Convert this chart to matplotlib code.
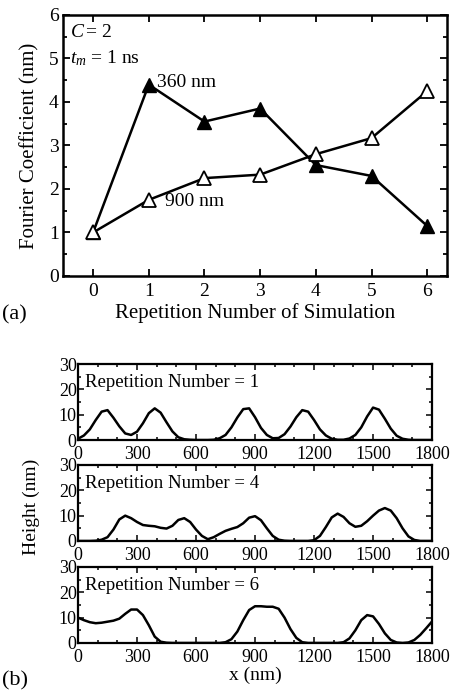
import numpy as np
import matplotlib
matplotlib.use("Agg")
import matplotlib.pyplot as plt
from matplotlib.ticker import MultipleLocator

plt.rcParams["font.family"] = ["Liberation Serif", "DejaVu Serif"]
plt.rcParams["mathtext.fontset"] = "custom"
plt.rcParams["mathtext.rm"] = "Liberation Serif"
plt.rcParams["mathtext.it"] = "Liberation Serif:italic"

# ---- panel (a): Fourier coefficients vs repetition number
rep = [0, 1, 2, 3, 4, 5, 6]
coef_360 = [1.0, 4.4, 3.55, 3.85, 2.55, 2.3, 1.15]
coef_900 = [1.0, 1.75, 2.25, 2.33, 2.8, 3.17, 4.25]

# ---- panel (b): height profiles, sampled every 30 nm from 0 to 1800
x_nm = np.arange(0, 1801, 30)
h_rep1 = [0.5, 1.8, 4.2, 7.9, 11.2, 11.8, 8.8, 5.4, 2.6, 2.0,
          3.3, 6.6, 10.6, 12.5, 10.8, 7.0, 3.4, 1.1, 0.3, 0.1,
          0.0, 0.0, 0.0, 0.1, 0.7, 2.0, 5.0, 8.9, 12.2, 12.5,
          9.0, 4.8, 2.0, 0.7, 0.8, 2.3, 5.3, 9.0, 11.8, 11.2,
          7.9, 4.2, 1.8, 0.5, 0.1, 0.1, 0.6, 2.0, 5.0, 9.3,
          12.8, 12.0, 8.4, 4.5, 1.7, 0.5, 0.1, 0.0, 0.0, 0.0, 0.0]
h_rep4 = [0.0, 0.0, 0.0, 0.1, 0.5, 1.5, 4.5, 8.5, 10.0, 9.0,
          7.5, 6.3, 6.0, 5.8, 5.2, 4.9, 6.0, 8.3, 9.0, 7.5,
          4.5, 2.0, 0.7, 1.5, 2.8, 4.0, 4.8, 5.5, 7.0, 9.2,
          9.8, 8.2, 5.0, 2.0, 0.5, 0.1, 0.0, 0.0, 0.0, 0.0,
          0.3, 2.0, 5.5, 9.3, 10.8, 9.5, 7.0, 5.6, 6.0, 7.8,
          10.0, 12.0, 13.0, 12.0, 9.0, 5.0, 1.8, 0.4, 0.0, 0.0, 0.0]
h_rep6 = [10.0, 9.0, 8.2, 7.8, 8.0, 8.4, 8.8, 9.6, 11.5, 13.2,
          13.2, 11.0, 7.0, 2.5, 0.5, 0.1, 0.0, 0.0, 0.0, 0.0,
          0.0, 0.0, 0.0, 0.0, 0.0, 0.3, 1.5, 4.5, 9.0, 13.0,
          14.5, 14.5, 14.3, 14.3, 13.5, 10.0, 5.5, 2.0, 0.3, 0.0,
          0.0, 0.0, 0.0, 0.0, 0.0, 0.3, 1.8, 5.0, 9.0, 11.0,
          10.5, 7.5, 3.8, 1.2, 0.2, 0.0, 0.2, 1.2, 3.2, 5.8, 8.5]
profiles = [(1, h_rep1), (4, h_rep4), (6, h_rep6)]

fig = plt.figure(figsize=(4.51, 6.91), dpi=100)

ax = fig.add_axes([0.1397, 0.6006, 0.852, 0.3777])
ax.plot(rep, coef_360, color="black", lw=1.8, marker="^", ms=9.5,
        mfc="black", mec="black", clip_on=False, zorder=3)
ax.plot(rep, coef_900, color="black", lw=1.8, marker="^", ms=9.5,
        mfc="white", mec="black", mew=1.3, clip_on=False, zorder=3)
ax.set_xlim(-0.54, 6.36)
ax.set_ylim(0, 6)
ax.set_xticks(rep)
ax.yaxis.set_major_locator(MultipleLocator(1))
ax.yaxis.set_minor_locator(MultipleLocator(0.5))
ax.tick_params(which="both", direction="in", top=True, right=True,
               labelsize=14, width=1.3)
ax.tick_params(which="major", length=5, pad=5)
ax.tick_params(which="minor", length=3)
ax.tick_params(axis="y", which="major", pad=3)
for sp in ax.spines.values():
    sp.set_linewidth(1.8)
ax.set_xlabel("Repetition Number of Simulation", fontsize=15, labelpad=2)
ax.set_ylabel("Fourier Coefficient (nm)", fontsize=15, labelpad=7)
ax.text(-0.42, 5.6, r"$C\,$= 2", fontsize=14, va="center")
ax.text(-0.42, 5.0, r"$t_m$ = 1 ns", fontsize=14, va="center")
ax.text(1.15, 4.45, "360 nm", fontsize=14, va="center")
ax.text(1.30, 1.72, "900 nm", fontsize=14, va="center")
fig.text(0.005, 1 - 315 / 691, "(a)", fontsize=16, va="center")

# ---- height profile panels
bottoms = [0.3632, 0.2171, 0.0695]
for (n, h), b in zip(profiles, bottoms):
    axb = fig.add_axes([0.173, b, 0.785, 0.110])
    axb.plot(x_nm, h, color="black", lw=1.8)
    axb.set_xlim(0, 1800)
    axb.set_ylim(0, 30)
    axb.xaxis.set_major_locator(MultipleLocator(300))
    axb.xaxis.set_minor_locator(MultipleLocator(100))
    axb.yaxis.set_major_locator(MultipleLocator(10))
    axb.yaxis.set_minor_locator(MultipleLocator(5))
    axb.tick_params(which="both", direction="in", top=True, right=True,
                    labelsize=13, width=1.1)
    axb.tick_params(axis="x", which="major", length=4, pad=4)
    axb.tick_params(axis="y", which="major", length=4, pad=1)
    axb.tick_params(which="minor", length=2)
    for sp in axb.spines.values():
        sp.set_linewidth(1.6)
    axb.text(0.02, 0.76, f"Repetition Number = {n}", transform=axb.transAxes,
             fontsize=13.5, va="center")

fig.text(31 / 451, 1 - 507 / 691, "Height (nm)", rotation=90, fontsize=14,
         ha="center", va="center")
fig.text(255 / 451, 1 - 675 / 691, "x (nm)", fontsize=14, ha="center", va="center")
fig.text(0.005, 1 - 681 / 691, "(b)", fontsize=16, va="center")

fig.savefig("out.png", dpi=100)
